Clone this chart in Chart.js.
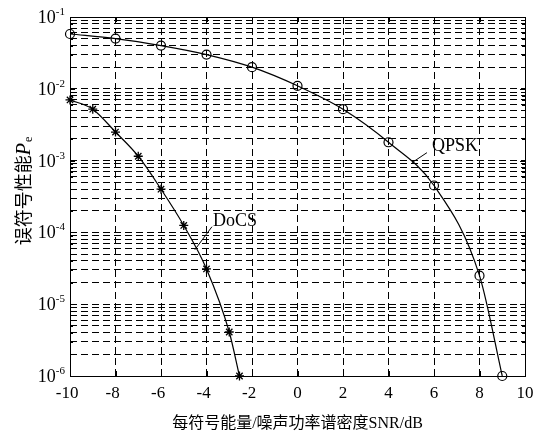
<!DOCTYPE html>
<html>
<head>
<meta charset="utf-8">
<script src="https://cdn.jsdelivr.net/npm/chart.js@4"></script>
<style>
html,body{margin:0;padding:0;background:#fff;}
canvas{display:block;}
</style>
</head>
<body>
<canvas id="c" width="543" height="431"></canvas>
<script>
// ---- data ----
const snrDocs = [-10, -9, -8, -7, -6, -5, -4, -3, -2.55];
const peDocs  = [7e-3, 5.2e-3, 2.5e-3, 1.15e-3, 4e-4, 1.25e-4, 3.1e-5, 4.1e-6, 1e-6];
const snrQpsk = [-10, -8, -6, -4, -2, 0, 2, 4, 6, 8, 9];
const peQpsk  = [0.058, 0.05, 0.04, 0.03, 0.02, 0.011, 0.0052, 0.0018, 4.5e-4, 2.5e-5, 1e-6];
const xTickValues = [-10, -8, -6, -4, -2, 0, 2, 4, 6, 8, 10];
const yDecadeExps = [-6, -5, -4, -3, -2, -1];
const xTitle = '每符号能量/噪声功率谱密度SNR/dB';
const yTitleCJK = '误符号性能';
const seriesLabels = ['DoCS', 'QPSK'];
// annotation anchors in data coordinates: [labelX, labelY, lineFromX, lineFromY, lineToX, lineToY]
const docsNote = [-3.71, 1.41e-4, -3.76, 1.2e-4, -4.51, 5.74e-5];
const qpskNote = [5.91, 1.56e-3, 5.69, 1.29e-3, 5.03, 9.35e-4];

const SERIF = '"Liberation Serif", "Times New Roman", serif';
const MIXED = '"Liberation Serif", "Noto Sans CJK SC", serif';
const CJK = '"Noto Sans CJK SC", sans-serif';

function allLogTicks() {
  const t = [];
  yDecadeExps.forEach((e, i) => {
    const base = Math.pow(10, e);
    if (i === yDecadeExps.length - 1) { t.push({value: base, major: true}); return; }
    for (let m = 1; m <= 9; m++) t.push({value: parseFloat((m * base).toPrecision(3)), major: m === 1});
  });
  return t;
}

const decor = {
  id: 'decor',
  afterDatasetsDraw(chart) {
    const {ctx, chartArea: a, scales: {x, y}} = chart;
    ctx.save();
    ctx.strokeStyle = '#000';
    ctx.lineWidth = 1;
    // inside tick marks
    ctx.beginPath();
    xTickValues.forEach(v => {
      const px = Math.round(x.getPixelForValue(v)) + 0.5;
      ctx.moveTo(px, a.bottom); ctx.lineTo(px, a.bottom - 5);
      ctx.moveTo(px, a.top); ctx.lineTo(px, a.top + 5);
    });
    y.ticks.forEach(t => {
      const py = Math.round(y.getPixelForValue(t.value)) + 0.5;
      const len = t.major ? 5 : 3;
      ctx.moveTo(a.left, py); ctx.lineTo(a.left + len, py);
      ctx.moveTo(a.right, py); ctx.lineTo(a.right - len, py);
    });
    ctx.stroke();
    // box
    ctx.strokeRect(Math.round(a.left) + 0.5, Math.round(a.top) + 0.5,
                   Math.round(a.right - a.left), Math.round(a.bottom - a.top));
    // x tick labels (digits centred on tick, minus hanging left)
    ctx.fillStyle = '#000';
    ctx.font = '17px ' + SERIF;
    ctx.textBaseline = 'alphabetic';
    xTickValues.forEach(v => {
      const px = x.getPixelForValue(v);
      const digits = String(Math.abs(v));
      const dw = ctx.measureText(digits).width;
      ctx.textAlign = 'left';
      ctx.fillText(digits, px - dw / 2, a.bottom + 22);
      if (v < 0) {
        ctx.textAlign = 'right';
        ctx.fillText('-', px - dw / 2, a.bottom + 22);
      }
    });
    // y tick labels 10^e
    yDecadeExps.forEach(e => {
      const py = y.getPixelForValue(Math.pow(10, e));
      ctx.font = '11px ' + SERIF;
      const sup = String(e);
      const sw = ctx.measureText(sup).width;
      ctx.textAlign = 'left';
      ctx.fillText(sup, a.left - 5 - sw, py - 2);
      ctx.font = '18px ' + SERIF;
      ctx.textAlign = 'right';
      ctx.fillText('10', a.left - 5 - sw, py + 6);
    });
    // x title
    ctx.font = '16px ' + MIXED;
    ctx.textAlign = 'center';
    ctx.fillText(xTitle, (a.left + a.right) / 2, a.bottom + 52);
    // y title rotated
    ctx.save();
    ctx.translate(22, (a.top + a.bottom) / 2);
    ctx.rotate(-Math.PI / 2);
    ctx.font = '18px ' + CJK;
    const w1 = ctx.measureText(yTitleCJK).width;
    ctx.font = 'italic 20px ' + SERIF;
    const w2 = ctx.measureText('P').width;
    ctx.font = '12px ' + SERIF;
    const w3 = ctx.measureText('e').width;
    let sx = -(w1 + w2 + w3) / 2 + 5;
    ctx.textAlign = 'left';
    ctx.font = '18px ' + CJK;
    ctx.fillText(yTitleCJK, sx, 8);
    sx += w1;
    ctx.font = 'italic 20px ' + SERIF;
    ctx.fillText('P', sx, 8);
    sx += w2;
    ctx.font = '12px ' + SERIF;
    ctx.fillText('e', sx + 1, 10);
    ctx.restore();
    // annotations
    [[docsNote, seriesLabels[0]], [qpskNote, seriesLabels[1]]].forEach(([n, label]) => {
      ctx.beginPath();
      ctx.moveTo(x.getPixelForValue(n[2]), y.getPixelForValue(n[3]));
      ctx.lineTo(x.getPixelForValue(n[4]), y.getPixelForValue(n[5]));
      ctx.stroke();
      ctx.font = '18px ' + SERIF;
      ctx.textAlign = 'left';
      ctx.textBaseline = 'middle';
      ctx.fillText(label, x.getPixelForValue(n[0]), y.getPixelForValue(n[1]));
      ctx.textBaseline = 'alphabetic';
    });
    ctx.restore();
  }
};

new Chart(document.getElementById('c'), {
  type: 'line',
  data: {
    datasets: [
      {
        label: seriesLabels[0],
        data: snrDocs.map((v, i) => ({x: v, y: peDocs[i]})),
        borderColor: '#000', backgroundColor: '#000', borderWidth: 1.2,
        pointStyle: 'star', pointRadius: 4.5, pointBorderWidth: 1.3, pointBorderColor: '#000',
        cubicInterpolationMode: 'monotone', fill: false, clip: false
      },
      {
        label: seriesLabels[1],
        data: snrQpsk.map((v, i) => ({x: v, y: peQpsk[i]})),
        borderColor: '#000', backgroundColor: 'rgba(0,0,0,0)', borderWidth: 1.2,
        pointStyle: 'circle', pointRadius: 4.5, pointBorderWidth: 1.2, pointBorderColor: '#000',
        cubicInterpolationMode: 'monotone', fill: false, clip: false
      }
    ]
  },
  options: {
    responsive: false,
    animation: false,
    devicePixelRatio: 1,
    layout: {padding: {left: 70, right: 18, top: 17, bottom: 55}},
    plugins: {legend: {display: false}, tooltip: {enabled: false}},
    scales: {
      x: {
        type: 'linear', min: -10, max: 10,
        afterBuildTicks: s => { s.ticks = xTickValues.map(v => ({value: v})); },
        ticks: {display: false},
        grid: {color: '#000', lineWidth: 1, drawTicks: false, borderDash: [7, 4]},
        border: {display: false, dash: [7, 4]}
      },
      y: {
        type: 'logarithmic', min: 1e-6, max: 1e-1,
        afterBuildTicks: s => { s.ticks = allLogTicks(); },
        ticks: {display: false},
        grid: {color: '#000', lineWidth: 1, drawTicks: false, borderDash: [7, 4]},
        border: {display: false, dash: [7, 4]}
      }
    }
  },
  plugins: [decor]
});
</script>
</body>
</html>
